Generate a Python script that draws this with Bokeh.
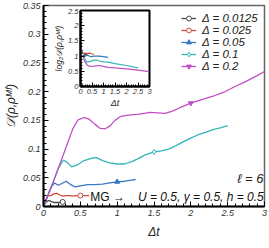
import numpy as np
from bokeh.plotting import figure
from bokeh.models import Legend, LegendItem, Label, FixedTicker
from bokeh.embed import file_html
from bokeh.resources import INLINE

FONT = "Liberation Sans"

# ---------------- data ----------------
labels = ["Δ = 0.0125", "Δ = 0.025", "Δ = 0.05", "Δ = 0.1", "Δ = 0.2"]

x_0125 = [0, 0.03, 0.07, 0.1, 0.14, 0.18, 0.22, 0.26, 0.3]
y_0125 = [0, 0.007, 0.0105, 0.009, 0.007, 0.007, 0.007, 0.008, 0.008]

x_025 = [0, 0.03, 0.06, 0.1, 0.14, 0.18, 0.22, 0.26, 0.3, 0.35, 0.4, 0.45, 0.5, 0.55, 0.62]
y_025 = [0, 0.011, 0.019, 0.019, 0.022, 0.023, 0.020, 0.018, 0.019, 0.019, 0.018, 0.019, 0.019, 0.019, 0.019]

x_05 = [0, 0.05, 0.1, 0.15, 0.2, 0.25, 0.31, 0.37, 0.43, 0.5, 0.6, 0.7, 0.8, 0.9, 1.0, 1.1, 1.2, 1.25]
y_05 = [0, 0.017, 0.033, 0.041, 0.037, 0.040, 0.044, 0.038, 0.034, 0.036, 0.038, 0.038, 0.039, 0.041, 0.043, 0.044, 0.046, 0.047]

x_1 = [0, 0.1, 0.2, 0.27, 0.33, 0.38, 0.47, 0.55, 0.65, 0.72, 0.8, 0.9, 1.0, 1.1, 1.2, 1.28, 1.38,
       1.5, 1.6, 1.7, 1.8, 1.9, 2.0, 2.1, 2.2, 2.3, 2.4, 2.5]
y_1 = [0, 0.032, 0.066, 0.081, 0.076, 0.069, 0.073, 0.080, 0.084, 0.085, 0.080, 0.076, 0.074, 0.074,
       0.078, 0.083, 0.090, 0.095, 0.097, 0.100, 0.106, 0.113, 0.119, 0.125, 0.129, 0.134, 0.137, 0.141]

x_2 = [0, 0.1, 0.2, 0.3, 0.4, 0.47, 0.55, 0.62, 0.7, 0.77, 0.83, 0.9, 0.97, 1.05, 1.15, 1.3, 1.45,
       1.55, 1.65, 1.75, 1.85, 2.0, 2.15, 2.3, 2.45, 2.6, 2.75, 2.9, 3.0]
y_2 = [0, 0.032, 0.066, 0.101, 0.136, 0.151, 0.155, 0.152, 0.143, 0.136, 0.135, 0.140, 0.150, 0.157,
       0.159, 0.161, 0.164, 0.163, 0.162, 0.166, 0.172, 0.180, 0.186, 0.192, 0.199, 0.209, 0.218, 0.228, 0.235]

# marker positions (indices into each series)
mark_idx = [[7], [12], [14], [17], [21]]

# inset: log2 D
ix_0125 = [0, 0.05, 0.1, 0.15, 0.2, 0.3]
iy_0125 = [1.1, 1.05, 1.06, 1.04, 1.05, 1.04]
ix_025 = [0, 0.05, 0.1, 0.2, 0.3, 0.4, 0.5, 0.6]
iy_025 = [1.1, 1.08, 1.05, 1.1, 1.08, 1.1, 1.07, 1.06]
ix_05 = [0, 0.05, 0.1, 0.2, 0.3, 0.45, 0.6, 0.8, 1.0, 1.2]
iy_05 = [1.2, 1.1, 1.05, 1.0, 1.03, 0.98, 1.0, 1.0, 0.98, 0.96]
ix_1 = [0, 0.05, 0.1, 0.2, 0.28, 0.4, 0.55, 0.67, 0.8, 1.0, 1.2, 1.5, 2.0, 2.5]
iy_1 = [1.4, 1.2, 1.05, 0.88, 0.80, 0.82, 0.86, 0.88, 0.84, 0.81, 0.80, 0.75, 0.69, 0.61]
ix_2 = [0, 0.05, 0.1, 0.2, 0.3, 0.4, 0.6, 0.8, 1.0, 1.2, 1.5, 2.0, 2.5, 3.0]
iy_2 = [1.46, 1.2, 1.0, 0.8, 0.7, 0.66, 0.67, 0.69, 0.66, 0.63, 0.61, 0.58, 0.54, 0.49]

x_ticks = [0, 0.5, 1, 1.5, 2, 2.5, 3]
x_tick_labels = ["0", "0.5", "1", "1.5", "2", "2.5", "3"]
y_ticks = [0, 0.05, 0.1, 0.15, 0.2, 0.25, 0.3, 0.35]
y_tick_labels = ["0", "0.05", "0.1", "0.15", "0.2", "0.25", "0.3", "0.35"]
iy_ticks = [0, 0.5, 1, 1.5, 2, 2.5]
iy_tick_labels = ["0", "0.5", "1", "1.5", "2", "2.5"]

colors = ["#4a4a4a", "#d0493a", "#3778c0", "#33b5b8", "#bf4fc4"]
markers = ["circle", "circle", "triangle", "diamond", "inverted_triangle"]
fills = ["white", "white", None, "white", None]

main_x = [x_0125, x_025, x_05, x_1, x_2]
main_y = [y_0125, y_025, y_05, y_1, y_2]
ins_x = [ix_0125, ix_025, ix_05, ix_1, ix_2]
ins_y = [iy_0125, iy_025, iy_05, iy_1, iy_2]


def style_axes(fig, fs, lab_fs, xt, xtl, yt, ytl, xminor, yminor):
    fig.xaxis.ticker = FixedTicker(ticks=xt, minor_ticks=xminor)
    fig.yaxis.ticker = FixedTicker(ticks=yt, minor_ticks=yminor)
    fig.xaxis.major_label_overrides = {t: l for t, l in zip(xt, xtl)}
    fig.yaxis.major_label_overrides = {t: l for t, l in zip(yt, ytl)}
    for ax in (fig.xaxis, fig.yaxis):
        ax.axis_line_width = 2
        ax.axis_line_color = "black"
        ax.major_tick_in = 5
        ax.major_tick_out = 0
        ax.minor_tick_in = 3
        ax.minor_tick_out = 0
        ax.major_tick_line_color = "black"
        ax.minor_tick_line_color = "black"
        ax.major_label_text_font = FONT
        ax.major_label_text_font_style = "italic"
        ax.major_label_text_font_size = fs
        ax.major_label_text_color = "#333333"
        ax.axis_label_text_font = FONT
        ax.axis_label_text_font_style = "italic"
        ax.axis_label_text_font_size = lab_fs
        ax.axis_label_text_color = "#222222"
    fig.xgrid.visible = False
    fig.ygrid.visible = False


# ---------------- main figure ----------------
p = figure(width=269, height=248, x_range=(0, 3), y_range=(0, 0.35),
           output_backend="svg", toolbar_location=None,
           min_border_left=42, min_border_right=5, min_border_top=5, min_border_bottom=42)
p.outline_line_color = "#666666"
p.outline_line_width = 1.5
style_axes(p, "9px", "12px", x_ticks, x_tick_labels, y_ticks, y_tick_labels,
           list(np.round(np.arange(0, 3.001, 0.1), 3)), list(np.round(np.arange(0, 0.3501, 0.01), 3)))
p.xaxis.axis_label = "Δt"
p.yaxis.axis_label = "𝒟(ρ,ρᴹᶠ)"
p.yaxis.axis_label_text_font_size = "12px"
p.xaxis.major_label_standoff = 3
p.yaxis.major_label_standoff = 3
p.xaxis.axis_label_standoff = 6
p.yaxis.axis_label_standoff = 2

items = []
for i in range(5):
    r1 = p.line(main_x[i], main_y[i], line_color=colors[i], line_width=1.3)
    mx = [main_x[i][k] for k in mark_idx[i]]
    my = [main_y[i][k] for k in mark_idx[i]]
    r2 = p.scatter(mx, my, marker=markers[i], size=5, line_color=colors[i],
                   fill_color=fills[i] if fills[i] else colors[i], line_width=1)
    items.append(LegendItem(label=labels[i], renderers=[r1, r2]))

leg = Legend(items=items, location=(138, 134), padding=0, margin=0, spacing=0,
             glyph_width=15, glyph_height=12, label_height=12, label_standoff=6,
             label_text_font=FONT, label_text_font_style="italic", label_text_font_size="11.5px",
             label_text_color="#222222", border_line_color=None, background_fill_alpha=0)
p.add_layout(leg)

p.add_layout(Label(x=2.985, y=0.049, text="ℓ = 6", text_align="right", text_baseline="middle",
                   text_font=FONT, text_font_style="italic", text_font_size="13px", text_color="#222222"))
p.add_layout(Label(x=0.635, y=0.016, text="MG →", text_align="left", text_baseline="middle",
                   text_font=FONT, text_font_size="12px", text_color="#111111"))
p.add_layout(Label(x=2.99, y=0.016, text="U = 0.5, γ = 0.5, h = 0.5", text_align="right",
                   text_baseline="middle", text_font=FONT, text_font_style="italic",
                   text_font_size="12px", text_color="#111111"))

# ---------------- inset ----------------
ins = figure(width=101, height=102, x_range=(0, 3), y_range=(0, 2.5),
             output_backend="svg", toolbar_location=None,
             min_border_left=22, min_border_right=3, min_border_top=2, min_border_bottom=24)
ins.outline_line_color = "black"
ins.outline_line_width = 2
ins.border_fill_alpha = 0
ins.background_fill_alpha = 0
style_axes(ins, "7.5px", "8.5px", x_ticks, x_tick_labels, iy_ticks, iy_tick_labels,
           list(np.round(np.arange(0, 3.001, 0.1), 3)), list(np.round(np.arange(0, 2.501, 0.1), 3)))
for ax in (ins.xaxis, ins.yaxis):
    ax.major_tick_in = 4
    ax.minor_tick_in = 2
    ax.major_label_standoff = 2
    ax.axis_label_standoff = 1
ins.xaxis.axis_label = "Δt"
ins.xaxis.axis_label_text_font_size = "9px"
ins.yaxis.axis_label = "log₂𝒟(ρ,ρᴹᶠ)"
for i in range(5):
    ins.line(ins_x[i], ins_y[i], line_color=colors[i], line_width=1.2)
ins.scatter(ix_0125[:3], iy_0125[:3], marker="circle", size=3, line_color=colors[0], fill_color="white")

ins.styles = {"position": "absolute", "left": "51px", "top": "8px"}

open("out.html", "w").write(file_html([p, ins], INLINE))
